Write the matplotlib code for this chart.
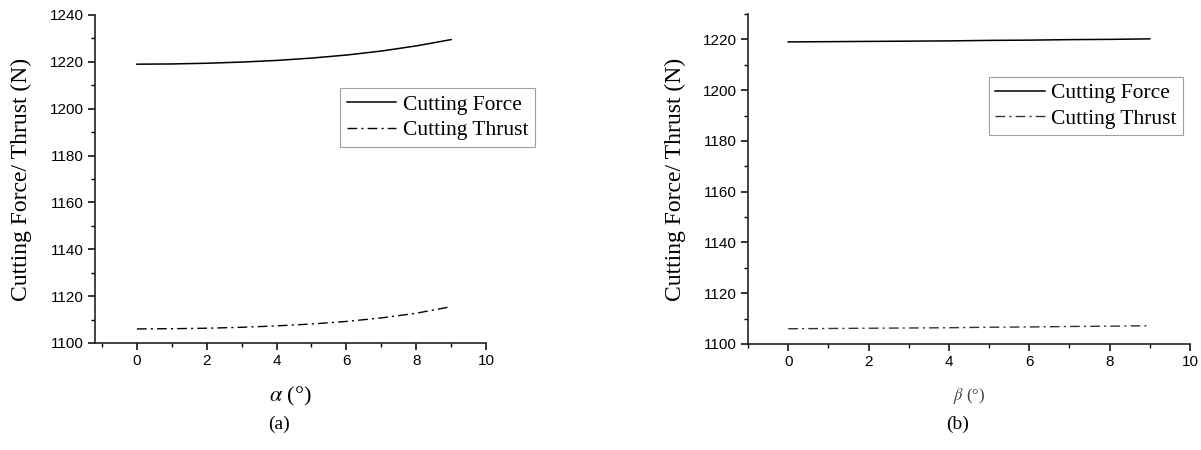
import matplotlib.pyplot as plt
from matplotlib.ticker import MultipleLocator

plt.rcParams["mathtext.fontset"] = "stix"

# angle values (degrees)
angle = [0, 1, 2, 3, 4, 5, 6, 7, 8, 9]

# (a) varying alpha
alpha_force = [1219.0, 1219.1, 1219.4, 1219.9, 1220.6, 1221.6, 1222.9, 1224.6, 1226.8, 1229.5]
alpha_thrust = [1106.0, 1106.1, 1106.3, 1106.7, 1107.3, 1108.1, 1109.2, 1110.7, 1112.7, 1115.5]

# (b) varying beta
beta_force = [1219.0, 1219.1, 1219.2, 1219.3, 1219.4, 1219.6, 1219.7, 1219.9, 1220.0, 1220.2]
beta_thrust = [1106.0, 1106.1, 1106.2, 1106.3, 1106.4, 1106.6, 1106.7, 1106.9, 1107.0, 1107.2]

SERIF = ["Liberation Serif", "DejaVu Serif"]
SANS = ["Liberation Sans", "DejaVu Sans"]


def style_axes(ax, ylim, xlim):
    ax.set_xlim(*xlim)
    ax.set_ylim(*ylim)
    ax.spines["top"].set_visible(False)
    ax.spines["right"].set_visible(False)
    for side in ("left", "bottom"):
        ax.spines[side].set_linewidth(1.2)
        ax.spines[side].set_color("#222222")
    ax.xaxis.set_major_locator(MultipleLocator(2))
    ax.xaxis.set_minor_locator(MultipleLocator(1))
    ax.yaxis.set_major_locator(MultipleLocator(20))
    ax.yaxis.set_minor_locator(MultipleLocator(10))
    ax.tick_params(which="major", direction="out", length=5, width=1.1, labelsize=11, pad=3)
    ax.tick_params(which="minor", direction="out", length=3, width=1.0)
    for lab in ax.get_xticklabels() + ax.get_yticklabels():
        lab.set_family(SANS)
    ax.set_ylabel("Cutting Force/ Thrust (N)", family=SERIF, fontsize=17)


def add_legend(ax, anchor):
    leg = ax.legend(loc="upper left", bbox_to_anchor=anchor, prop={"family": SERIF, "size": 15.5},
                    frameon=True, fancybox=False, edgecolor="#888888", borderpad=0.3,
                    handlelength=2.3, handletextpad=0.3, labelspacing=0.25, borderaxespad=0)
    leg.get_frame().set_linewidth(0.8)
    return leg


fig = plt.figure(figsize=(12.01, 4.5), dpi=100)

ax1 = fig.add_axes([0.0791, 0.2378, 0.3256, 0.7289])
ax1.plot(angle, alpha_force, color="black", lw=1.1, label="Cutting Force")
ax1.plot(angle, alpha_thrust, color="black", lw=1.0, linestyle=(0, (7, 3, 1.5, 3)),
         label="Cutting Thrust")
style_axes(ax1, (1100, 1240), (-1.2, 10))
ax1.yaxis.set_label_coords(-0.16, 0.5)
ax1.set_xlabel(r"$\alpha$ (°)", family=SERIF, fontsize=16, labelpad=12)
add_legend(ax1, (0.627, 0.776))

ax2 = fig.add_axes([0.6228, 0.2356, 0.3680, 0.7333])
ax2.plot(angle, beta_force, color="black", lw=1.1, label="Cutting Force")
ax2.plot(angle, beta_thrust, color="#333333", lw=1.0, linestyle=(0, (7, 3, 1.5, 3)),
         label="Cutting Thrust")
style_axes(ax2, (1100, 1230), (-1, 10))
ax2.yaxis.set_label_coords(-0.14, 0.5)
ax2.set_xlabel(r"$\beta$ (°)", family=SERIF, fontsize=12, color="#444444", labelpad=12)
add_legend(ax2, (0.545, 0.81))

fig.text(0.232, 0.056, "(a)", ha="center", va="center", family=SERIF, fontsize=14)
fig.text(0.797, 0.056, "(b)", ha="center", va="center", family=SERIF, fontsize=14)

fig.savefig("out.png", dpi=100)
